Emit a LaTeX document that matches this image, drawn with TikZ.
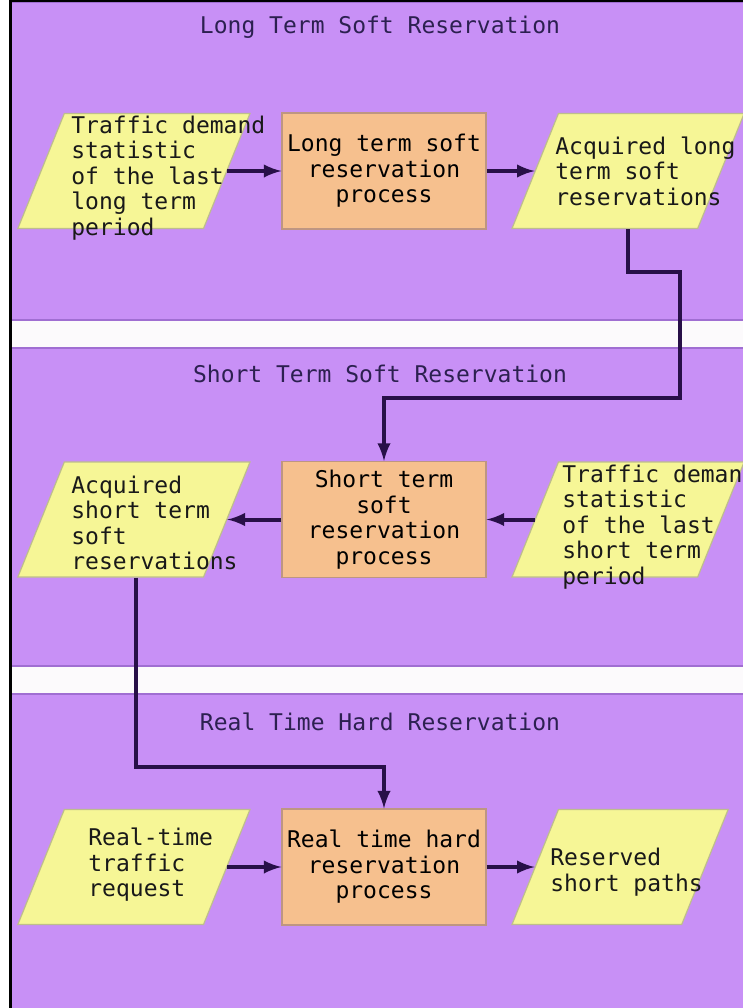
\documentclass[tikz,border=0pt]{standalone}
\usepackage{fontspec}
\newfontfamily\flowfont{DejaVu Sans Mono}
\usetikzlibrary{positioning,shapes,arrows}

\definecolor{lanepurple}{RGB}{200,144,246}
\definecolor{laneedge}{RGB}{160,110,210}
\definecolor{gapwhite}{RGB}{252,250,252}
\definecolor{datayellow}{RGB}{246,246,150}
\definecolor{dataedge}{RGB}{190,190,140}
\definecolor{procorange}{RGB}{246,192,142}
\definecolor{procedge}{RGB}{190,150,130}
\definecolor{flowink}{RGB}{40,16,72}
\definecolor{titleink}{RGB}{44,32,80}

\begin{document}
\begin{tikzpicture}[
	x=0.5pt, y=-0.5pt,
	font=\flowfont\fontsize{11.5}{12.75}\selectfont,
	lane/.style={fill=lanepurple,draw=laneedge,line width=0.6pt},
	lanetitle/.style={text=titleink},
	procbox/.style={draw=procedge,fill=procorange,line width=0.6pt,minimum width=102pt,minimum height=58pt,inner sep=0pt,align=center},
	datapara/.style={trapezium,trapezium left angle=68,trapezium right angle=112,draw=dataedge,fill=datayellow,line width=0.6pt,inner xsep=34.8pt,inner ysep=28.75pt},
	datatext/.style={align=left,anchor=west,inner sep=0pt,text=black!90},
	flow/.style={draw=flowink,line width=2pt,-latex}
	]
	\useasboundingbox (0,0) rectangle (743,1008);
	\fill[gapwhite] (10,0) rectangle (743,1008);
	\draw[lane] (10,2) rectangle (745,320);
	\draw[lane] (10,348) rectangle (745,666);
	\draw[lane] (10,694) rectangle (745,1010);
	\draw[black,line width=1.5pt] (10,0) -- (10,1008);
	\draw[black,line width=1pt] (10,1) -- (743,1);

	% lane titles
	\node[lanetitle] (longtitle) at (380,27) {Long Term Soft Reservation};
	\node[lanetitle] (shorttitle) at (380,374) {Short Term Soft Reservation};
	\node[lanetitle] (realtitle) at (380,722) {Real Time Hard Reservation};

	% processes
	\node[procbox] (ltproc) at (384,171) {Long term soft\\reservation\\process};
	\node[procbox] (stproc) at (384,519.5) {Short term\\soft\\reservation\\process};
	\node[procbox] (rtproc) at (384,867) {Real time hard\\reservation\\process};

	% data
	\node[datapara, left=27pt of ltproc] (tdlong) {};
	\node[datapara, right=24pt of ltproc] (acqlong) {};
	\node[datapara, left=27pt of stproc] (acqshort) {};
	\node[datapara, right=24pt of stproc] (tdshort) {};
	\node[datapara, left=27pt of rtproc] (rtreq) {};
	\node[datapara, inner xsep=30.8pt, right=24pt of rtproc] (respath) {};

	\node[datatext] (tdlong-t) at (71,178) {Traffic demand\\statistic\\of the last\\long term\\period};
	\node[datatext] (acqlong-t) at (555,171) {Acquired long\\term soft\\reservations};
	\node[datatext] (acqshort-t) at (71,523) {Acquired\\short term\\soft\\reservations};
	\node[datatext] (tdshort-t) at (562,527) {Traffic demand\\statistic\\of the last\\short term\\period};
	\node[datatext] (rtreq-t) at (88,865) {Real-time\\traffic\\request};
	\node[datatext] (respath-t) at (550,872) {Reserved\\short paths};

	% flows
	\draw[flow] (tdlong.east) -- (tdlong.east -| ltproc.west);
	\draw[flow] (ltproc.east) -- (ltproc.east -| acqlong.west);
	\draw[flow] (stproc.west) -- (stproc.west -| acqshort.east);
	\draw[flow] (tdshort.west) -- (tdshort.west -| stproc.east);
	\draw[flow] (rtreq.east) -- (rtreq.east -| rtproc.west);
	\draw[flow] (rtproc.east) -- (rtproc.east -| respath.west);

	\coordinate (turn1) at (680,272);
	\coordinate (turn2) at (680,398);
	\draw[flow] (acqlong.south -| acqlong.center) |- (turn1) -- (turn2) -| (stproc.north);
	\coordinate (turn3) at (135.5,767);
	\draw[flow] (acqshort.south -| turn3) -- (turn3) -| (rtproc.north);
\end{tikzpicture}
\end{document}
